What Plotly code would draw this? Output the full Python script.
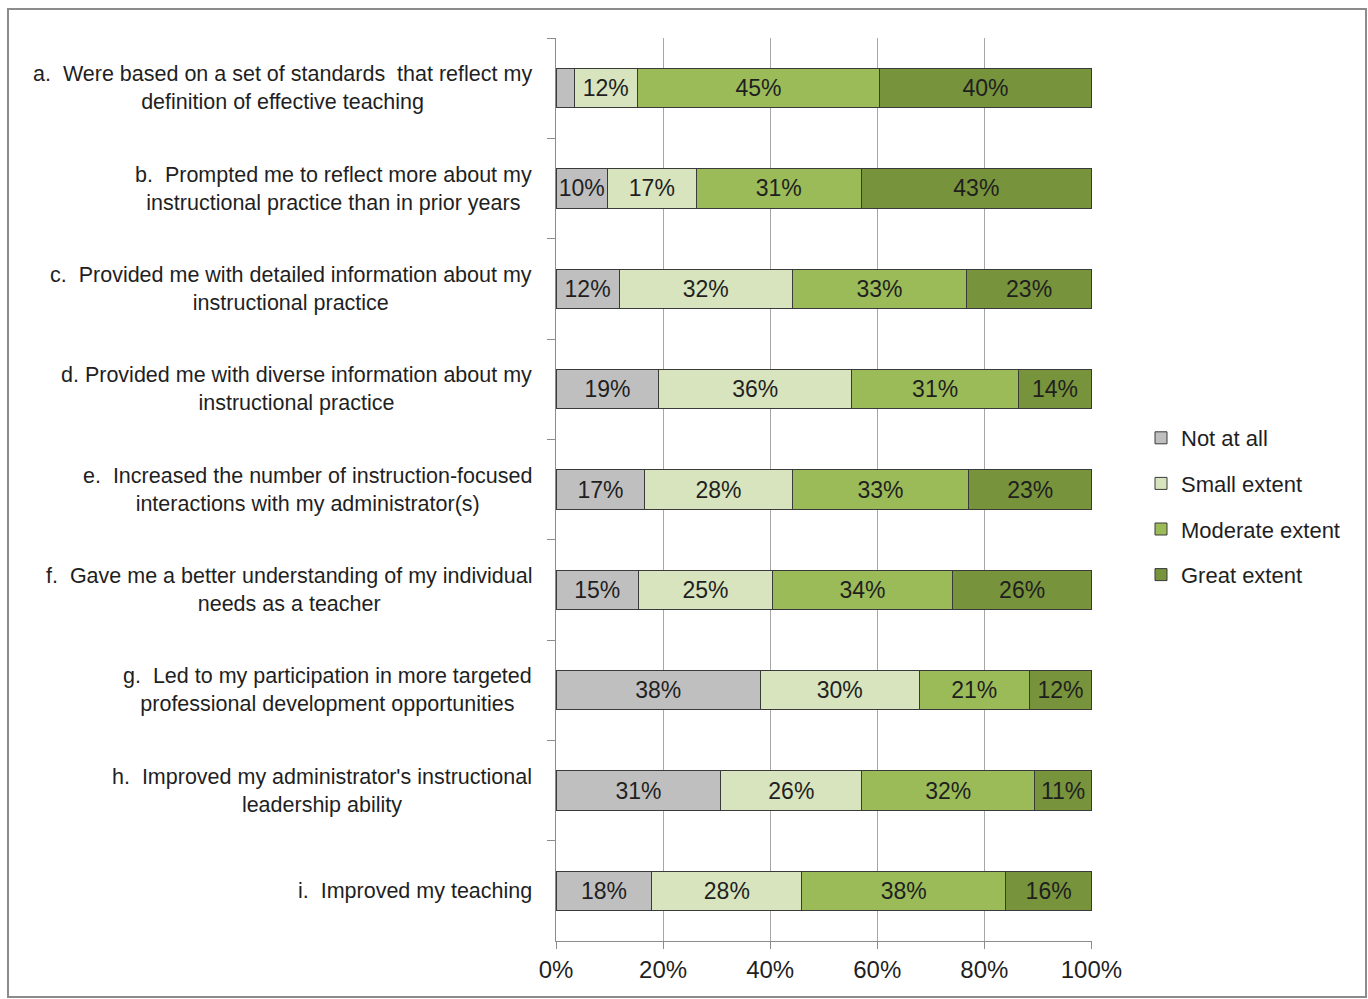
import plotly.graph_objects as go

# Survey items (top to bottom)
items = [
    "a.  Were based on a set of standards  that reflect my<br>definition of effective teaching",
    "b.  Prompted me to reflect more about my<br>instructional practice than in prior years",
    "c.  Provided me with detailed information about my<br>instructional practice",
    "d. Provided me with diverse information about my<br>instructional practice",
    "e.  Increased the number of instruction-focused<br>interactions with my administrator(s)",
    "f.  Gave me a better understanding of my individual<br>needs as a teacher",
    "g.  Led to my participation in more targeted<br>professional development opportunities",
    "h.  Improved my administrator's instructional<br>leadership ability",
    "i.  Improved my teaching",
]
keys = ["a", "b", "c", "d", "e", "f", "g", "h", "i"]

# Percent of respondents per response level
not_at_all = [3.4, 9.6, 11.8, 19.2, 16.6, 15.4, 38.2, 30.8, 17.9]
small_extent = [11.8, 16.6, 32.3, 36.0, 27.5, 25.0, 29.6, 26.3, 28.0]
moderate_extent = [45.2, 30.8, 32.6, 31.2, 33.0, 33.7, 20.6, 32.3, 38.1]
great_extent = [39.6, 43.0, 23.3, 13.6, 22.9, 25.9, 11.6, 10.6, 16.0]

series = [
    ("Not at all", not_at_all, "#BFBFBF"),
    ("Small extent", small_extent, "#D7E4BD"),
    ("Moderate extent", moderate_extent, "#9BBB59"),
    ("Great extent", great_extent, "#77933C"),
]

x_ticks = [0, 20, 40, 60, 80, 100]

FONT = "Liberation Sans, Arial, sans-serif"
INK = "#1F1F1F"

W, H = 1368, 999
L, R, T, B = 556, 1092, 38, 941  # plot area in pixels

fig = go.Figure()
for name, vals, color in series:
    labels = [f"{round(v)}%" if v >= 5 else "" for v in vals]
    fig.add_trace(go.Bar(
        name=name,
        legendgroup=name,
        y=keys,
        x=vals,
        orientation="h",
        marker=dict(color=color, line=dict(color="#3A3A3A", width=1)),
        text=labels,
        textposition="inside",
        insidetextanchor="middle",
        textangle=0,
        constraintext="none",
        textfont=dict(family=FONT, size=23, color=INK),
        hoverinfo="skip",
    ))

# Category labels, centred line by line and right-aligned to the axis
for k, label in zip(keys, items):
    fig.add_annotation(
        xref="paper", yref="y", x=0, y=k, xshift=-22,
        xanchor="right", yanchor="middle", align="center",
        text=label, showarrow=False,
        font=dict(family=FONT, size=21.5, color=INK),
    )

# Outer frame around the whole chart
def px_x(px):
    return (px - L) / (R - L)

def px_y(py):
    return (B - py) / (B - T)

fig.add_shape(
    type="rect", xref="paper", yref="paper",
    x0=px_x(8), x1=px_x(1366), y0=px_y(997), y1=px_y(9),
    line=dict(color="#8C8C8C", width=2), fillcolor="rgba(0,0,0,0)",
    layer="below",
)

fig.update_layout(
    width=W, height=H,
    margin=dict(l=L, r=W - R, t=T, b=H - B, pad=0, autoexpand=False),
    barmode="stack",
    bargap=0.61,
    plot_bgcolor="white",
    paper_bgcolor="white",
    font=dict(family=FONT, size=22, color=INK),
    showlegend=True,
    legend=dict(
        x=px_x(1141), y=px_y(417), xanchor="left", yanchor="top",
        traceorder="grouped", tracegroupgap=14,
        font=dict(family=FONT, size=22, color=INK),
        itemwidth=30,
        bgcolor="rgba(0,0,0,0)",
    ),
    xaxis=dict(
        range=[0, 100.1],
        tickvals=x_ticks,
        ticktext=[f"{t}%" for t in x_ticks],
        showgrid=True, gridcolor="#A6A6A6", gridwidth=1,
        showline=True, linecolor="#8C8C8C", linewidth=1,
        ticks="outside", ticklen=7, tickcolor="#8C8C8C",
        tickfont=dict(family=FONT, size=24, color=INK),
        zeroline=False,
    ),
    yaxis=dict(
        categoryorder="array", categoryarray=keys,
        autorange="reversed",
        showticklabels=False,
        showgrid=False,
        showline=True, linecolor="#8C8C8C", linewidth=1,
        ticks="outside", tickson="boundaries", ticklen=8, tickcolor="#8C8C8C",
        zeroline=False,
    ),
)

fig.write_html("out.html")
